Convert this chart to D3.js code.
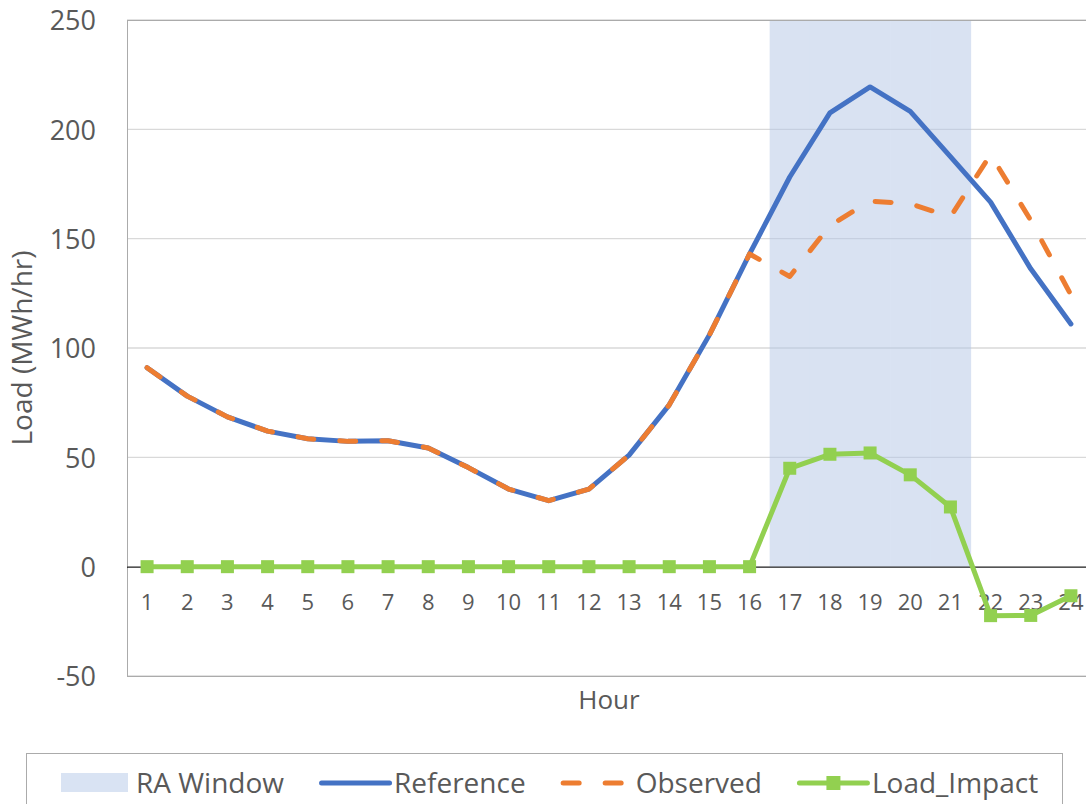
<!DOCTYPE html>
<html>
<head>
<meta charset="utf-8">
<script src="https://cdn.jsdelivr.net/npm/d3@7"></script>
<style>
  html, body { margin: 0; padding: 0; background: #ffffff; }
  svg { display: block; font-family: "Open Sans", sans-serif; }
</style>
</head>
<body>
<svg id="chart" width="1086" height="804"></svg>
<script>
// Hourly categories
const hours = ["1","2","3","4","5","6","7","8","9","10","11","12",
               "13","14","15","16","17","18","19","20","21","22","23","24"];

// Load series (MWh/hr)
const reference = [91, 78, 68.5, 62, 58.5, 57.3, 57.6, 54.3, 45.3, 35.5, 30.2, 35.5,
                   51, 74, 106, 143, 178.2, 207.5, 219.4, 208.2, 187.5, 166.7, 136.2, 111];
const observed  = [91, 78, 68.5, 62, 58.5, 57.3, 57.6, 54.3, 45.3, 35.5, 30.2, 35.5,
                   51, 74, 106, 143, 132.7, 156, 167.2, 166, 160, 188.5, 158.4, 124.3];
const loadImpact = [0, 0, 0, 0, 0, 0, 0, 0, 0, 0, 0, 0,
                    0, 0, 0, 0, 45, 51.4, 52, 42, 27.3, -22.4, -22.3, -13.3];

// RA window columns (full-height band over the window hours)
const raWindowHours = ["17","18","19","20","21"];
const raWindowValue = 250;

// Axis ticks
const yTicks = [-50, 0, 50, 100, 150, 200, 250];

// Legend entries
const legendLabels = ["RA Window", "Reference", "Observed", "Load_Impact"];

const colors = {
  ra: "#B4C7E7",
  reference: "#4472C4",
  observed: "#ED7D31",
  impact: "#92D050",
  text: "#595959",
  grid: "#D9D9D9",
  border: "#ABABAB"
};

const svg = d3.select("#chart");
svg.append("rect").attr("width", 1086).attr("height", 804).attr("fill", "#fff");

const plot = { left: 127, top: 20, right: 1091, bottom: 676 };

const x = d3.scaleBand().domain(hours).range([plot.left, plot.right]).padding(0);
const y = d3.scaleLinear().domain([-50, 250]).range([plot.bottom, plot.top]);
const cx = h => x(h) + x.bandwidth() / 2;

// Gridlines
svg.append("g")
  .selectAll("line")
  .data(yTicks)
  .join("line")
  .attr("x1", plot.left).attr("x2", plot.right)
  .attr("y1", d => y(d)).attr("y2", d => y(d))
  .attr("stroke", colors.grid).attr("stroke-width", 1.3);

// RA window band: opaque columns inside a translucent group, so the
// adjoining columns blend as one block
svg.append("g")
  .attr("opacity", 0.5)
  .selectAll("rect")
  .data(raWindowHours)
  .join("rect")
  .attr("x", d => x(d))
  .attr("width", x.bandwidth() + 0.6)
  .attr("y", y(raWindowValue))
  .attr("height", y(0) - y(raWindowValue))
  .attr("fill", colors.ra);

// Plot frame
svg.append("rect")
  .attr("x", plot.left + 0.5).attr("y", plot.top + 0.5)
  .attr("width", plot.right - plot.left).attr("height", plot.bottom - plot.top)
  .attr("fill", "none").attr("stroke", colors.border).attr("stroke-width", 1);

// Zero line (category axis)
svg.append("line")
  .attr("x1", plot.left).attr("x2", plot.right)
  .attr("y1", y(0) + 0.5).attr("y2", y(0) + 0.5)
  .attr("stroke", "#000").attr("stroke-width", 1);

// Y axis labels
const yAxis = svg.append("g")
  .attr("transform", `translate(${plot.left},0)`)
  .call(d3.axisLeft(y).tickValues(yTicks).tickSize(0).tickPadding(31).tickFormat(d => String(d)));
yAxis.select(".domain").remove();
yAxis.selectAll("text")
  .attr("font-family", "Open Sans").attr("font-size", 27)
  .attr("fill", colors.text).attr("dy", "0.36em");

// X axis labels
const xAxis = svg.append("g")
  .attr("transform", `translate(0,${y(0)})`)
  .call(d3.axisBottom(x).tickSize(0));
xAxis.select(".domain").remove();
xAxis.selectAll("text")
  .attr("font-family", "Open Sans").attr("font-size", 22)
  .attr("fill", colors.text).attr("y", 43).attr("dy", 0);

// Axis titles
svg.append("text")
  .attr("x", (plot.left + plot.right) / 2).attr("y", 709)
  .attr("text-anchor", "middle")
  .attr("font-size", 26).attr("fill", colors.text)
  .text("Hour");

svg.append("text")
  .attr("transform", `translate(32,${(plot.top + plot.bottom) / 2}) rotate(-90)`)
  .attr("text-anchor", "middle")
  .attr("font-size", 28).attr("fill", colors.text)
  .text("Load (MWh/hr)");

// Series lines
const line = d3.line().x((d, i) => cx(hours[i])).y(d => y(d));

svg.append("path")
  .datum(reference)
  .attr("d", line)
  .attr("fill", "none").attr("stroke", colors.reference)
  .attr("stroke-width", 5).attr("stroke-linejoin", "round").attr("stroke-linecap", "round");

svg.append("path")
  .datum(observed)
  .attr("d", line)
  .attr("fill", "none").attr("stroke", colors.observed)
  .attr("stroke-width", 5).attr("stroke-dasharray", "16,26")
  .attr("stroke-linejoin", "round").attr("stroke-linecap", "round");

svg.append("path")
  .datum(loadImpact)
  .attr("d", line)
  .attr("fill", "none").attr("stroke", colors.impact)
  .attr("stroke-width", 5).attr("stroke-linejoin", "round").attr("stroke-linecap", "round");

const markerSize = 13;
svg.append("g")
  .selectAll("rect")
  .data(loadImpact)
  .join("rect")
  .attr("x", (d, i) => cx(hours[i]) - markerSize / 2)
  .attr("y", d => y(d) - markerSize / 2)
  .attr("width", markerSize).attr("height", markerSize)
  .attr("fill", colors.impact);

// Legend
const legendBox = { left: 26, top: 753, right: 1062 };
svg.append("rect")
  .attr("x", legendBox.left + 0.5).attr("y", legendBox.top + 0.5)
  .attr("width", legendBox.right - legendBox.left).attr("height", 80)
  .attr("fill", "#fff").attr("stroke", colors.border).attr("stroke-width", 1);

const legendY = 783;
const symbolW = 75;
const itemGap = 35;
const legend = svg.append("g");
let cursor = 61;
const items = legendLabels.map(label => {
  const g = legend.append("g").attr("transform", `translate(${cursor},0)`);
  const t = g.append("text")
    .attr("x", symbolW).attr("y", legendY + 10)
    .attr("font-size", 28).attr("fill", colors.text)
    .text(label);
  cursor += symbolW + t.node().getComputedTextLength() + itemGap;
  return g;
});

// Legend symbols
items[0].append("rect")
  .attr("x", 0).attr("y", legendY - 10).attr("width", 67).attr("height", 19)
  .attr("fill", colors.ra).attr("fill-opacity", 0.5);

items[1].append("line")
  .attr("x1", 2.5).attr("x2", 70.5).attr("y1", legendY).attr("y2", legendY)
  .attr("stroke", colors.reference).attr("stroke-width", 5).attr("stroke-linecap", "round");

items[2].append("line")
  .attr("x1", 2.5).attr("x2", 70.5).attr("y1", legendY).attr("y2", legendY)
  .attr("stroke", colors.observed).attr("stroke-width", 5)
  .attr("stroke-dasharray", "16,26").attr("stroke-linecap", "round");

items[3].append("line")
  .attr("x1", 2.5).attr("x2", 70.5).attr("y1", legendY).attr("y2", legendY)
  .attr("stroke", colors.impact).attr("stroke-width", 5).attr("stroke-linecap", "round");
items[3].append("rect")
  .attr("x", 36.5 - 7).attr("y", legendY - 7).attr("width", 14).attr("height", 14)
  .attr("fill", colors.impact);
</script>
</body>
</html>
